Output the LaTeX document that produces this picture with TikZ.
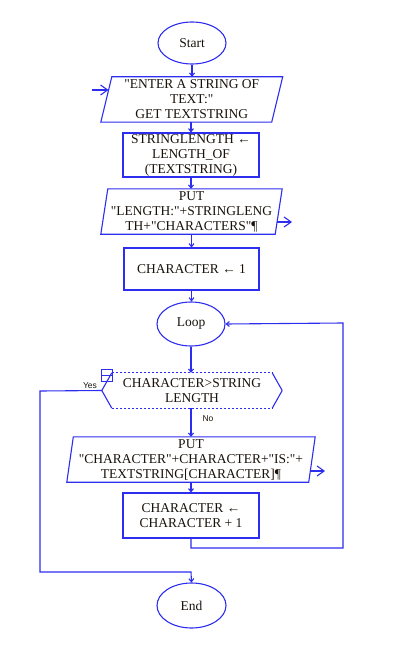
\documentclass[tikz,border=0pt]{standalone}
\usepackage{fontspec}
\setmainfont{Liberation Serif}[Ligatures=TeXOff]
\newfontfamily\labelfont{Liberation Sans}
\usetikzlibrary{arrows.meta,shapes.geometric,calc}
\definecolor{fcblue}{RGB}{45,45,240}
\definecolor{fctext}{RGB}{25,18,10}
\begin{document}
\begin{tikzpicture}[x=1pt,y=-1pt,
  line/.style={draw=fcblue, line width=1.1pt},
  conn/.style={line, -{Straight Barb[length=3pt,width=5pt]}},
  ioarrow/.style={line, -{Straight Barb[length=7pt,width=10pt]}},
  txt/.style={font=\fontsize{13.5}{15}\selectfont, text=fctext, align=center},
  term/.style={ellipse, draw=fcblue, line width=1.1pt, inner sep=0pt, txt},
  proc/.style={rectangle, draw=fcblue, line width=1.1pt, inner sep=0pt, txt},
  paratext/.style={rectangle, inner sep=0pt, txt},
  lbl/.style={font=\labelfont\fontsize{8.5}{9}\selectfont, text=fctext, inner sep=0pt}
]
\useasboundingbox (0,0) rectangle (419,671);

% terminals
\node[term, minimum width=68pt, minimum height=42pt] (start) at (192,43) {Start};
\node[term, minimum width=68pt, minimum height=44pt] (loop) at (191,324) {Loop};
\node[term, minimum width=69pt, minimum height=45pt] (end) at (191.5,605.5) {End};

% input parallelogram
\node[paratext, minimum width=181.5pt, minimum height=45pt] (in) at (191.75,99.5)
  {"ENTER A STRING OF\\TEXT:"\\GET TEXTSTRING};
\draw[line] ([xshift=11pt]in.north west) -- (in.north east) -- ([xshift=-11pt]in.south east) -- (in.south west) -- cycle;

% rect 1
\node[proc, minimum width=136pt, minimum height=44pt] (len) at (191,155)
  {STRINGLENGTH ←\\LENGTH\_OF\\(TEXTSTRING)};

% put 1
\node[paratext, minimum width=181pt, minimum height=45pt] (put1) at (191.5,211.5)
  {PUT\\"LENGTH:"+STRINGLENG\\TH+"CHARACTERS"¶};
\draw[line] ([xshift=7pt]put1.north west) -- (put1.north east) -- ([xshift=-7pt]put1.south east) -- (put1.south west) -- cycle;

% rect 2
\node[proc, minimum width=135pt, minimum height=42pt] (init) at (191.5,269) {CHARACTER ← 1};

% decision
\node[paratext, minimum width=180pt, minimum height=35pt] (dec) at (192,390.5)
  {CHARACTER>STRING\\LENGTH};
\draw[line] (dec.west) -- ([xshift=10pt]dec.north west);
\draw[line] (dec.west) -- ([xshift=10pt]dec.south west);
\draw[line] (dec.east) -- ([xshift=-10pt]dec.north east);
\draw[line] (dec.east) -- ([xshift=-10pt]dec.south east);
\draw[line, line width=0.9pt, dash pattern=on 2pt off 2pt] ([xshift=10pt]dec.north west) -- ([xshift=-10pt]dec.north east);
\draw[line, line width=0.9pt, dash pattern=on 2pt off 2pt] ([xshift=10pt]dec.south west) -- ([xshift=-10pt]dec.south east);
% small symbol
\coordinate (symA) at (101,369);
\coordinate (symB) at (112,381);
\draw[line, line width=0.9pt] (symA) rectangle (symB);
\draw[line, line width=0.9pt] (symA |- 0,375) -- (symB |- 0,375);

% put 2
\node[paratext, minimum width=248pt, minimum height=45pt] (put2) at (191,459.5)
  {PUT\\"CHARACTER"+CHARACTER+"IS:"+\\TEXTSTRING[CHARACTER]¶};
\draw[line] ([xshift=6.5pt]put2.north west) -- (put2.north east) -- ([xshift=-6.5pt]put2.south east) -- (put2.south west) -- cycle;

% rect 3
\node[proc, minimum width=136pt, minimum height=45pt] (inc) at (191,515.5)
  {CHARACTER ←\\CHARACTER + 1};

% labels
\node[lbl] (yes) at (90,386) {Yes};
\node[lbl] (no) at (208,419) {No};

% io arrows
\coordinate (inarr) at (92,90);
\draw[ioarrow] (inarr) -- (108.5,90);
\coordinate (out1) at (277,222);
\draw[ioarrow] (out1) -- (292,222);
\coordinate (out2) at (310,471);
\draw[ioarrow] (out2) -- (325,471);

% connectors
\draw[conn] (start.south) -- (start.south |- in.north);
\draw[conn] (in.south -| len.north) -- (len.north);
\draw[conn] (len.south) -- (len.south |- put1.north);
\draw[conn] (put1.south -| init.north) -- (init.north);
\draw[conn] (init.south) -- (init.south |- loop.north);
\draw[conn] (loop.south) -- (loop.south |- dec.north);
\draw[conn] (dec.south -| loop.south) -- (loop.south |- put2.north);
\draw[conn] (put2.south -| inc.north) -- (inc.north);

% loop back
\coordinate (lb1) at (191,548);
\coordinate (lb2) at (343,548);
\coordinate (lb3) at (343,323);
\draw[conn] (inc.south) -- (lb1) -- (lb2) -- (lb3) -- (loop.east);

% yes branch
\coordinate (y1) at (40,391);
\coordinate (y2) at (40,572);
\coordinate (y3) at (191,572);
\draw[conn] (dec.west) -- (y1) -- (y2) -- (y3) -- (end.north);
\end{tikzpicture}
\end{document}
